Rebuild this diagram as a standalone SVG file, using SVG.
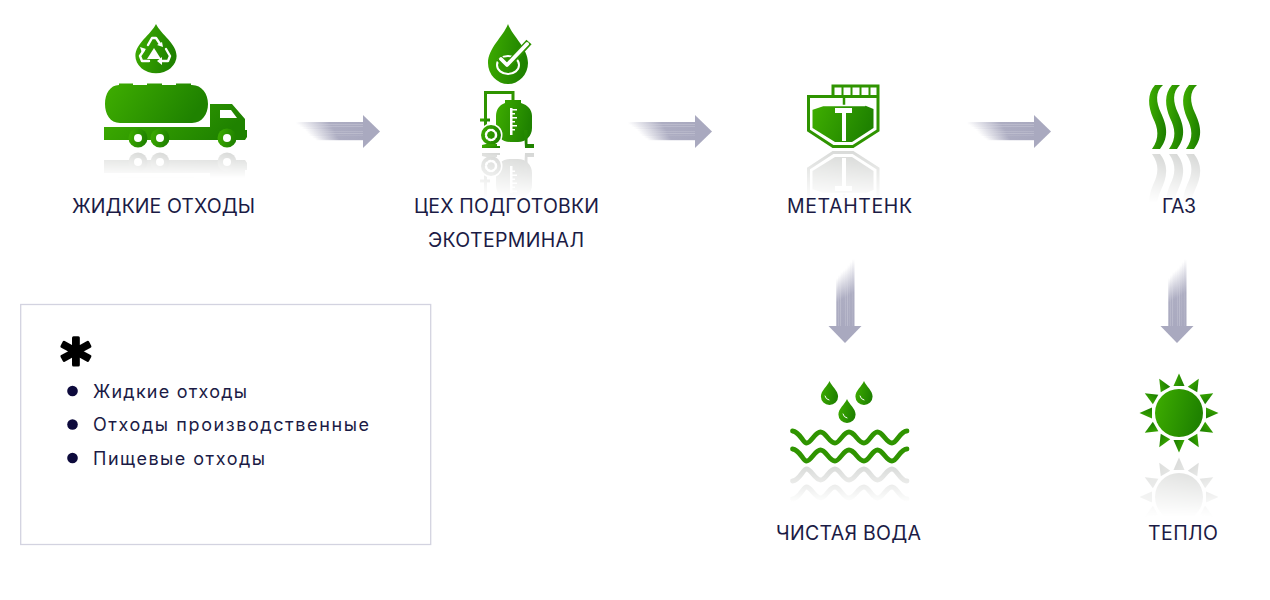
<svg xmlns="http://www.w3.org/2000/svg" width="1270" height="600" viewBox="0 0 1270 600">
<style>
text{font-family:"Inter","Noto Sans","DejaVu Sans",sans-serif;fill:#1b1b45}
.l{font-size:19.500px}
.t{font-size:18px}
.g{fill:url(#gr)}
.w{fill:#fff}
.ws{fill:none;stroke:#fff;stroke-linecap:round;stroke-linejoin:round}
.ss{fill:none;stroke:#2f9400}
.ar{fill:#a9a9bf}
.st{fill:url(#sf)}
.bl{fill:#0d0a3c}
</style>
<defs>
<linearGradient id="gr" x1="0" y1="0" x2="1" y2="0.25"><stop offset="0" stop-color="#3fae00"/><stop offset="1" stop-color="#1f8200"/></linearGradient>
<linearGradient id="sf"><stop offset="0" stop-color="#a9a9bf" stop-opacity="0"/><stop offset="0.5" stop-color="#a9a9bf" stop-opacity=".95"/><stop offset="1" stop-color="#a9a9bf"/></linearGradient>
<linearGradient id="fade" x1="0" y1="0" x2="0" y2="1"><stop offset="0" stop-color="#fff" stop-opacity=".5"/><stop offset="1" stop-color="#fff" stop-opacity="0"/></linearGradient>
<filter id="grey" color-interpolation-filters="sRGB"><feColorMatrix type="saturate" values="0.05"/><feComponentTransfer><feFuncR type="linear" slope=".55" intercept=".45"/><feFuncG type="linear" slope=".55" intercept=".45"/><feFuncB type="linear" slope=".55" intercept=".45"/></feComponentTransfer></filter>
<mask id="m1" maskUnits="userSpaceOnUse" x="0" y="0" width="1270" height="600"><rect x="90" y="150" width="170" height="28" fill="url(#fade)"/></mask>
<mask id="m2" maskUnits="userSpaceOnUse" x="0" y="0" width="1270" height="600"><rect x="470" y="150" width="80" height="48" fill="url(#fade)"/></mask>
<mask id="m3" maskUnits="userSpaceOnUse" x="0" y="0" width="1270" height="600"><rect x="800" y="149" width="90" height="52" fill="url(#fade)"/></mask>
<mask id="m4" maskUnits="userSpaceOnUse" x="0" y="0" width="1270" height="600"><rect x="1140" y="151" width="70" height="52" fill="url(#fade)"/></mask>
<mask id="m5" maskUnits="userSpaceOnUse" x="0" y="0" width="1270" height="600"><rect x="780" y="465" width="140" height="38" fill="url(#fade)"/></mask>
<mask id="m6" maskUnits="userSpaceOnUse" x="0" y="0" width="1270" height="600"><rect x="1130" y="455" width="100" height="62" fill="url(#fade)"/></mask>

<path id="drop" d="M0 0C-5 13-20 24-20 39A20 21 0 0 0 20 39C20 24 5 13 0 0Z"/>

<g id="arrow">
<path class="ar" d="M67 0L84 16.500L67 33Z"/>
<rect class="st" x="0" y="7" width="67.500" height="2.400"/>
<rect class="st" x="3" y="9.300" width="64.500" height="2.400"/>
<rect class="st" x="6" y="11.600" width="61.500" height="2.400"/>
<rect class="st" x="9" y="13.900" width="58.500" height="2.400"/>
<rect class="st" x="11" y="16.200" width="56.500" height="2.400"/>
<rect class="st" x="13" y="18.500" width="54.500" height="2.400"/>
<rect class="st" x="16" y="20.800" width="51.500" height="2.400"/>
<rect class="st" x="19" y="23" width="48.500" height="2.200"/>
</g>

<g id="truckI">
<path class="g" d="M119 85V83.500H133V85H147V83.500H162V85H176V83.500H191V85H192C202 85 208 94 208 104C208 114 202 123 192 123H120C110 123 105 114 105 104C105 94 110 85 119 85Z"/>
<path class="g" d="M104 127H210V104H232L245 119V130H247V137L245 140H104Z"/>
<path class="w" d="M220 110H231L237 118H220Z"/>
<circle class="g" cx="138" cy="138" r="9.500"/><circle class="g" cx="160" cy="138" r="9.500"/><circle class="g" cx="227" cy="138" r="9.500"/>
<circle class="w" cx="138" cy="138" r="4"/><circle class="w" cx="160" cy="138" r="4"/><circle class="w" cx="227" cy="138" r="4"/>
</g>

<g id="tankI">
<path class="ss" stroke-width="3" d="M513 101V92.500H485.500V135H491"/>
<path class="g" d="M480 118.500H490V121.500H480Z"/>
<path class="g" d="M505 100H521V103C528 105 532 110 532 116V128C532 136 526 142 518 142H510C502 142 496 136 496 128V116C496 110 499 105 505 103Z"/>
<path class="w" d="M510 108H512.500V135H510ZM512 109H517V110.500H512ZM512 113H515V114.500H512ZM512 117H517V118.500H512ZM512 121H515V122.500H512ZM512 125H517V126.500H512ZM512 129H515V130.500H512Z"/>
<circle class="w" cx="491" cy="135" r="11.500"/>
<circle class="g" cx="491" cy="135" r="10"/>
<circle class="ws" cx="491" cy="135" r="5" stroke-width="2.500" stroke-dasharray="2 2"/>
<path class="g" d="M486 144H497V148H482V145ZM524 130H527.500V144H534V148H525Z"/>
<path class="g" d="M482 146H500V148H482Z"/>
</g>

<g id="metanI">
<path class="ss" stroke-width="3" d="M833 96V86H878V130.500L853 146.500H833L808.500 130.500V96.500H878"/>
<path class="ss" stroke-width="2" d="M842.500 87V95M851.500 87V95M860.500 87V95M869.500 87V95"/>
<path class="ss" stroke-width="2.500" d="M844 96V106"/>
<path class="g" d="M812.500 109L823 105.500H865L873.500 109V128L852 142H835L812.500 128Z"/>
<path class="ws" stroke-width="1.400" d="M812.500 109L823 105.500H865"/>
<path class="w" d="M835 108H852V113H846V141H842V113H835Z"/>
</g>

<g id="gasI">
<path class="g" d="M1155 85H1163C1155 92 1156 102 1161 113C1166 124 1170 136 1160 149H1152C1160 138 1158 128 1153 118C1148 106 1147 94 1155 85Z"/>
<path class="g" d="M1172 85H1180C1172 92 1173 102 1178 113C1183 124 1187 136 1177 149H1169C1177 138 1175 128 1170 118C1165 106 1164 94 1172 85Z"/>
<path class="g" d="M1189 85H1197C1189 92 1190 102 1195 113C1200 124 1204 136 1194 149H1186C1194 138 1192 128 1187 118C1182 106 1181 94 1189 85Z"/>
</g>

<g id="wavesI">
<path class="ss" stroke-width="4.800" stroke-linecap="round" d="M792.500 431C800 432 803 443 806.500 443C811 443 815 432 820.500 432C826 432 829 443 835 443C840 443 843 432 849 432C855 432 858 443 864 443C869 443 872 432 877.500 432C883 432 886 443 892 443C897 443 900 431 907 431"/>
<path class="ss" stroke-width="4.800" stroke-linecap="round" d="M792.500 449C800 450 803 461 806.500 461C811 461 815 450 820.500 450C826 450 829 461 835 461C840 461 843 450 849 450C855 450 858 461 864 461C869 461 872 450 877.500 450C883 450 886 461 892 461C897 461 900 449 907 449"/>
</g>

<g id="sunI">
<circle class="g" cx="1179" cy="413" r="24"/>
<g id="ray"><path class="g" d="M1179 373.500L1173.500 386H1184.500Z"/></g>
<use href="#ray" transform="rotate(30 1179 413)"/><use href="#ray" transform="rotate(60 1179 413)"/><use href="#ray" transform="rotate(90 1179 413)"/>
<use href="#ray" transform="rotate(120 1179 413)"/><use href="#ray" transform="rotate(150 1179 413)"/><use href="#ray" transform="rotate(180 1179 413)"/>
<use href="#ray" transform="rotate(210 1179 413)"/><use href="#ray" transform="rotate(240 1179 413)"/><use href="#ray" transform="rotate(270 1179 413)"/>
<use href="#ray" transform="rotate(300 1179 413)"/><use href="#ray" transform="rotate(330 1179 413)"/>
</g>
</defs>

<g id="connectors">
<use href="#arrow" transform="translate(296,115)"/>
<use href="#arrow" transform="translate(628,115)"/>
<use href="#arrow" transform="translate(967,115)"/>
<use href="#arrow" transform="translate(845,343) rotate(90) translate(-84,-16.500)"/>
<use href="#arrow" transform="translate(1177,343) rotate(90) translate(-84,-16.500)"/>
</g>

<g id="node-waste">
<g mask="url(#m1)"><g filter="url(#grey)"><use href="#truckI" transform="matrix(1 0 0 -1 0 300)"/></g></g>
<use href="#truckI"/>
<use href="#drop" class="g" transform="translate(156,24) scale(1.03,.82)"/>
<path class="ws" stroke-width="2.400" d="M148 45L152 38H156L160 44M166 49L170 56L168 61H161M149 61H142L140 56L144 50"/>
<path class="w" d="M162 42L163 47L157 45ZM146 49L140 47L142 53ZM162 57L157 61L162 65Z"/>
<path class="w" d="M154 48L161 59H147Z"/>
<text class="l" x="72" y="213" textLength="183" lengthAdjust="spacing">ЖИДКИЕ ОТХОДЫ</text>
</g>

<g id="node-prep">
<g mask="url(#m2)"><g filter="url(#grey)"><use href="#tankI" transform="matrix(1 0 0 -1 0 301)"/></g></g>
<use href="#tankI"/>
<use href="#drop" class="g" transform="translate(508,24)"/>
<ellipse class="ws" cx="508" cy="65" rx="11" ry="9" stroke-width="2"/>
<path d="M499 58L507 66L529 42" fill="none" stroke="#2f9400" stroke-width="7"/>
<path class="ws" d="M501 59L507 65L527 44" stroke-width="3.800"/>
<text class="l" x="414" y="213" textLength="185" lengthAdjust="spacing">ЦЕХ ПОДГОТОВКИ</text>
<text class="l" x="428" y="247" textLength="156" lengthAdjust="spacing">ЭКОТЕРМИНАЛ</text>
</g>

<g id="node-metan">
<g mask="url(#m3)"><g filter="url(#grey)"><use href="#metanI" transform="matrix(1 0 0 -1 0 299)"/></g></g>
<use href="#metanI"/>
<text class="l" x="787" y="213" textLength="125" lengthAdjust="spacing">МЕТАНТЕНК</text>
</g>

<g id="node-gas">
<g mask="url(#m4)"><g filter="url(#grey)"><use href="#gasI" transform="matrix(1 0 0 -1 0 303)"/></g></g>
<use href="#gasI"/>
<text class="l" x="1162" y="213" textLength="34" lengthAdjust="spacing">ГАЗ</text>
</g>

<g id="node-water">
<g mask="url(#m5)"><g filter="url(#grey)"><use href="#wavesI" transform="matrix(1 0 0 -1 0 930)"/></g></g>
<use href="#wavesI"/>
<use href="#drop" class="g" transform="translate(829.500,381) scale(.43,.4)"/>
<use href="#drop" class="g" transform="translate(864,381) scale(.43,.4)"/>
<use href="#drop" class="g" transform="translate(847,399) scale(.43,.4)"/>
<path class="ws" stroke-width="1" d="M825 396A5 5 0 0 0 829 400M860 396A5 5 0 0 0 864 400M843 414A5 5 0 0 0 847 418"/>
<text class="l" x="776" y="540" textLength="145" lengthAdjust="spacing">ЧИСТАЯ ВОДА</text>
</g>

<g id="node-heat">
<g mask="url(#m6)"><g filter="url(#grey)"><use href="#sunI" transform="matrix(1 0 0 -1 0 910)"/></g></g>
<use href="#sunI"/>
<text class="l" x="1148" y="540" textLength="70" lengthAdjust="spacing">ТЕПЛО</text>
</g>

<g id="note">
<rect x="20.700" y="304.500" width="410" height="240" fill="#fff" stroke="#d3d3e0" stroke-width="1.300"/>
<text x="76" y="381" text-anchor="middle" style="font-family:'DejaVu Sans',sans-serif;font-size:58px;font-weight:700;fill:#000;stroke:#000;stroke-width:3;stroke-linejoin:round">*</text>
<circle class="bl" cx="72.500" cy="391" r="5.300"/>
<circle class="bl" cx="72.500" cy="424.500" r="5.300"/>
<circle class="bl" cx="72.500" cy="458" r="5.300"/>
<text class="t" x="93" y="398" textLength="154" lengthAdjust="spacing">Жидкие отходы</text>
<text class="t" x="93" y="431" textLength="276" lengthAdjust="spacing">Отходы производственные</text>
<text class="t" x="93" y="465" textLength="172" lengthAdjust="spacing">Пищевые отходы</text>
</g>
</svg>
